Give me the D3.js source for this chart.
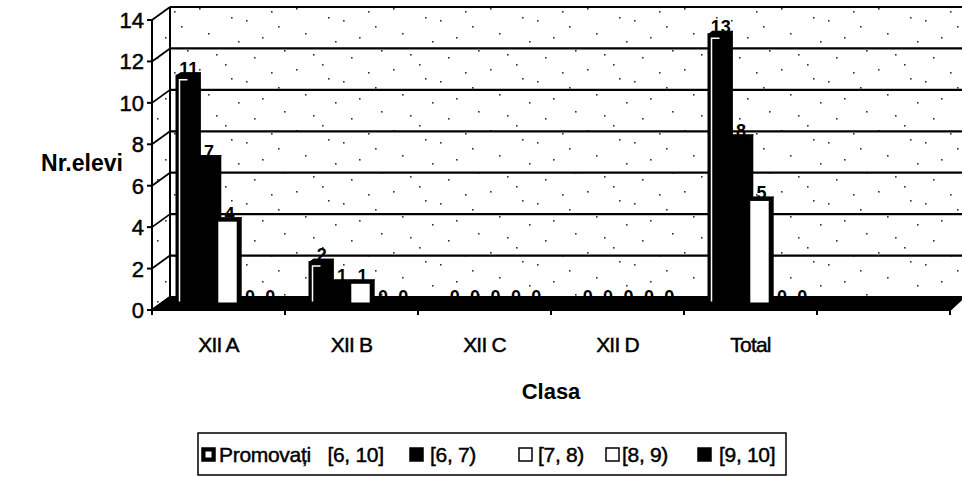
<!DOCTYPE html>
<html>
<head>
<meta charset="utf-8">
<script src="https://cdn.jsdelivr.net/npm/d3@7"></script>
<style>
  body { margin: 0; background: #fff; }
  text { font-family: "Liberation Sans", Arial, sans-serif; fill: #000; }
  .scan { stroke: #000; stroke-width: 0.45; }
</style>
</head>
<body>
<svg id="chart" width="962" height="478"></svg>
<script>
// data
const categories = ["XII A", "XII B", "XII C", "XII D", "Total", ""];
const seriesNames = ["Promovați   [6, 10]", "[6, 7)", "[7, 8)", "[8, 9)", "[9, 10]"];
const promovati = [11, 2, 0, 0, 13];
const grade67 = [7, 1, 0, 0, 8];
const grade78 = [4, 1, 0, 0, 5];
const grade89 = [0, 0, 0, 0, 0];
const grade910 = [0, 0, 0, 0, 0];
const yTicks = [0, 2, 4, 6, 8, 10, 12, 14];

const allSeries = [promovati, grade67, grade78, grade89, grade910];
const seriesFill = ["#000", "#000", "#fff", "#fff", "#000"];

const depthX = 18, depthY = -13; // 3d offset of back wall
const svg = d3.select("#chart");

// dotted texture of the walls
const defs = svg.append("defs");
const pat = defs.append("pattern")
    .attr("id", "dots")
    .attr("patternUnits", "userSpaceOnUse")
    .attr("width", 97).attr("height", 61);
pat.append("rect").attr("width", 97).attr("height", 61).attr("fill", "#fff");
[[5, 8], [31, 3], [52, 20], [77, 11], [14, 33], [44, 41], [68, 37], [90, 50], [22, 54], [60, 57], [84, 26], [37, 17]]
    .forEach(p => pat.append("rect")
        .attr("x", p[0]).attr("y", p[1])
        .attr("width", 1.6).attr("height", 1.6).attr("fill", "#333"));

const x = d3.scaleBand().domain(categories).range([152, 950]);
const inner = d3.scaleBand().domain(d3.range(allSeries.length)).range([-51, 51]);
const y = d3.scaleLinear().domain([0, 14]).range([310, 20]);

const x0 = x.range()[0], x1 = x.range()[1];
const yb = y(0), yt = y(14);

// left wall
svg.append("path")
    .attr("d", `M${x0},${yb} L${x0 + depthX},${yb + depthY} L${x0 + depthX},${yt + depthY} L${x0},${yt} Z`)
    .attr("fill", "url(#dots)");

// back wall
svg.append("rect")
    .attr("x", x0 + depthX).attr("y", yt + depthY)
    .attr("width", 962 - x0 - depthX).attr("height", yb - yt)
    .attr("fill", "url(#dots)");

// gridlines: back wall + diagonal on left wall
yTicks.forEach(t => {
    svg.append("line")
        .attr("x1", x0 + depthX).attr("x2", 962)
        .attr("y1", y(t) + depthY).attr("y2", y(t) + depthY)
        .attr("stroke", "#000").attr("stroke-width", 2.2);
    svg.append("line")
        .attr("x1", x0).attr("x2", x0 + depthX)
        .attr("y1", y(t)).attr("y2", y(t) + depthY)
        .attr("stroke", "#000").attr("stroke-width", 1.8);
});
svg.append("line")
    .attr("x1", x0 + depthX).attr("x2", x0 + depthX)
    .attr("y1", yt + depthY).attr("y2", yb + depthY)
    .attr("stroke", "#000").attr("stroke-width", 2);

// floor (dark)
svg.append("path")
    .attr("d", `M${x0},${yb} L${x1},${yb} L${x1 + 14},${yb + depthY} L${x0 + depthX},${yb + depthY} Z`)
    .attr("fill", "#000").attr("stroke", "#000").attr("stroke-width", 2);

// y axis
svg.append("line")
    .attr("x1", x0).attr("x2", x0).attr("y1", yt).attr("y2", yb + 1)
    .attr("stroke", "#000").attr("stroke-width", 2);
const yAxis = svg.append("g");
yTicks.forEach(t => {
    yAxis.append("line")
        .attr("x1", x0 - 5).attr("x2", x0).attr("y1", y(t)).attr("y2", y(t))
        .attr("stroke", "#000").attr("stroke-width", 2);
    yAxis.append("text")
        .attr("class", "scan")
        .attr("x", x0 - 8).attr("y", y(t) + 8)
        .attr("text-anchor", "end")
        .attr("font-size", 22)
        .text(t);
});

// x axis ticks and labels
const xAxis = svg.append("g");
categories.forEach((c, i) => {
    xAxis.append("line")
        .attr("x1", x(c)).attr("x2", x(c)).attr("y1", yb).attr("y2", yb + 5)
        .attr("stroke", "#000").attr("stroke-width", 2);
});
xAxis.append("line")
    .attr("x1", x1).attr("x2", x1).attr("y1", yb).attr("y2", yb + 5)
    .attr("stroke", "#000").attr("stroke-width", 2);
categories.forEach(c => {
    xAxis.append("text")
        .attr("class", "scan")
        .attr("x", x(c) + x.bandwidth() / 2).attr("y", yb + 42)
        .attr("text-anchor", "middle")
        .attr("font-size", 21)
        .attr("letter-spacing", -0.8)
        .text(c);
});

// bars, drawn at mid depth
const midX = depthX / 2, midY = depthY / 2;
const sideX = 4, sideY = -3;
const bars = svg.append("g");
allSeries.forEach((vals, s) => {
    vals.forEach((v, i) => {
        const c = categories[i];
        const bx = x(c) + x.bandwidth() / 2 + inner(s) + midX;
        const bw = inner.bandwidth();
        const top = y(v) + midY, bot = y(0) + midY;
        // side and top faces
        bars.append("path")
            .attr("d", `M${bx + bw},${bot} L${bx + bw + sideX},${bot + sideY} L${bx + bw + sideX},${top + sideY} L${bx + bw},${top} Z`)
            .attr("fill", "#000");
        bars.append("path")
            .attr("d", `M${bx},${top} L${bx + sideX},${top + sideY} L${bx + bw + sideX},${top + sideY} L${bx + bw},${top} Z`)
            .attr("fill", "#000").attr("stroke", "#000");
        // front face
        bars.append("rect")
            .attr("x", bx).attr("y", top)
            .attr("width", bw).attr("height", bot - top)
            .attr("fill", seriesFill[s])
            .attr("stroke", "#000").attr("stroke-width", 2);
        if (s === 0 && v > 0) {
            bars.append("path")
                .attr("d", `M${bx + 3},${bot - 2} L${bx + 3},${top + 4} L${bx + 11},${top + 4}`)
                .attr("fill", "none").attr("stroke", "#fff").attr("stroke-width", 1.5);
        }
        // value label
        bars.append("text")
            .attr("x", bx + bw / 2 + 2).attr("y", top - 1)
            .attr("text-anchor", "middle")
            .attr("font-size", 18)
            .attr("font-weight", "bold")
            .text(v);
    });
});

// axis titles
svg.append("text")
    .attr("x", 82).attr("y", 171)
    .attr("text-anchor", "middle")
    .attr("font-size", 23).attr("font-weight", "bold")
    .text("Nr.elevi");
svg.append("text")
    .attr("x", 551).attr("y", 399)
    .attr("text-anchor", "middle")
    .attr("font-size", 22).attr("font-weight", "bold")
    .text("Clasa");

// legend
const legend = svg.append("g");
const legX = 198, legY = 433, legW = 588, legH = 42;
legend.append("rect")
    .attr("x", legX).attr("y", legY).attr("width", legW).attr("height", legH)
    .attr("fill", "#fff").attr("stroke", "#000").attr("stroke-width", 1.5);
const iconPos = [202, 410, 519, 606, 698];
const textPos = [219, 430, 538, 622, 719];
seriesNames.forEach((name, s) => {
    const lx = iconPos[s];
    legend.append("rect")
        .attr("x", lx).attr("y", legY + 15).attr("width", 13).attr("height", 13)
        .attr("fill", seriesFill[s]).attr("stroke", "#000").attr("stroke-width", 1.5);
    if (s === 0) {
        legend.append("rect")
            .attr("x", lx + 4).attr("y", legY + 19).attr("width", 5).attr("height", 5)
            .attr("fill", "#fff").attr("stroke", "#fff");
    }
    legend.append("text")
        .attr("class", "scan")
        .attr("x", textPos[s]).attr("y", legY + 29)
        .attr("font-size", 21)
        .attr("letter-spacing", -0.3)
        .attr("xml:space", "preserve")
        .style("white-space", "pre")
        .text(name);
});
</script>
</body>
</html>
